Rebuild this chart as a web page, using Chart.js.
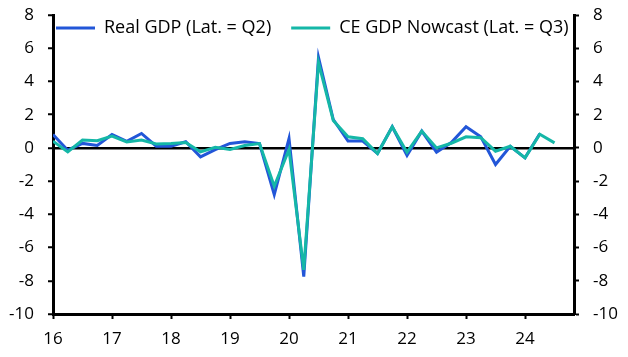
<!DOCTYPE html>
<html>
<head>
<meta charset="utf-8">
<script src="https://cdn.jsdelivr.net/npm/chart.js@4.4.1/dist/chart.umd.min.js"></script>
<style>
  html, body { margin: 0; padding: 0; background: #fff; }
  #wrap { width: 628px; height: 357px; position: relative; }
</style>
</head>
<body>
<div id="wrap"><canvas id="c" width="628" height="357"></canvas></div>
<script>
// Quarters 2016Q1 .. 2024Q3
const quarters = [
  "2016Q1","2016Q2","2016Q3","2016Q4",
  "2017Q1","2017Q2","2017Q3","2017Q4",
  "2018Q1","2018Q2","2018Q3","2018Q4",
  "2019Q1","2019Q2","2019Q3","2019Q4",
  "2020Q1","2020Q2","2020Q3","2020Q4",
  "2021Q1","2021Q2","2021Q3","2021Q4",
  "2022Q1","2022Q2","2022Q3","2022Q4",
  "2023Q1","2023Q2","2023Q3","2023Q4",
  "2024Q1","2024Q2","2024Q3"
];
// Real GDP, % q/q (latest = 2024Q2)
const realGDP = [
  0.81, -0.14, 0.27, 0.15,
  0.81, 0.40, 0.87, 0.10,
  0.10, 0.37, -0.54, -0.10,
  0.27, 0.37, 0.26, -2.81,
  0.57, -7.75, 5.44, 1.71,
  0.41, 0.41, -0.34, 1.27,
  -0.46, 1.01, -0.26, 0.32,
  1.27, 0.67, -1.00, 0.10,
  -0.60, 0.85
];
// CE GDP Nowcast, % q/q (latest = 2024Q3)
const nowcast = [
  0.40, -0.24, 0.47, 0.43,
  0.71, 0.36, 0.47, 0.24,
  0.27, 0.33, -0.24, 0.04,
  -0.10, 0.14, 0.26, -2.31,
  -0.10, -7.34, 5.14, 1.65,
  0.67, 0.55, -0.34, 1.27,
  -0.26, 1.01, 0.00, 0.28,
  0.67, 0.61, -0.20, 0.10,
  -0.60, 0.82, 0.30
];
const yearTicks = [16, 17, 18, 19, 20, 21, 22, 23, 24];
const yTicks = [-10, -8, -6, -4, -2, 0, 2, 4, 6, 8];
const seriesNames = ["Real GDP (Lat. = Q2)", "CE GDP Nowcast (Lat. = Q3)"];

function qToX(q) {
  const yr = parseInt(q.slice(2, 4), 10);
  const qq = parseInt(q.slice(5), 10);
  return yr + (qq - 1) / 4;
}
const toPoints = arr => arr.map((v, i) => ({ x: qToX(quarters[i]), y: v }));

const BLUE = '#2256d8';
const TEAL = '#15b7a7';
const FONT = "'Open Sans', 'Noto Sans', sans-serif";

// Legend overlays the plot area (does not reserve layout space)
const legendOverlay = {
  id: 'legendOverlay',
  beforeLayout(chart) {
    const lg = chart.legend;
    if (lg && !lg._overlayPatched) {
      const origFit = lg.fit.bind(lg);
      lg.fit = function () { origFit(); this.height = 0; };
      lg._overlayPatched = true;
    }
  },
  afterLayout(chart) {
    const lg = chart.legend;
    if (!lg) return;
    const pad = lg.options.labels.padding;
    lg.left = 56 - pad;
    lg.right = chart.width;
    lg.top = -1;
    lg.bottom = 60;
    lg.width = lg.right - lg.left;
    lg.height = lg.bottom - lg.top;
  }
};

const setTicks = vals => scale => { scale.ticks = vals.map(v => ({ value: v })); };
const fitY = w => s => { s.width = w; s.paddingTop = 0; s.paddingBottom = 0; };

new Chart(document.getElementById('c'), {
  type: 'line',
  data: {
    datasets: [
      {
        label: seriesNames[0],
        data: toPoints(realGDP),
        borderColor: BLUE,
        backgroundColor: BLUE,
        borderWidth: 3,
        pointRadius: 0,
        tension: 0,
        order: 2
      },
      {
        label: seriesNames[1],
        data: toPoints(nowcast),
        borderColor: TEAL,
        backgroundColor: TEAL,
        borderWidth: 3,
        pointRadius: 0,
        tension: 0,
        order: 1
      }
    ]
  },
  options: {
    responsive: false,
    animation: false,
    devicePixelRatio: 1,
    layout: { padding: { top: 15, left: 0, right: 0, bottom: 0 } },
    plugins: {
      legend: {
        position: 'top',
        align: 'start',
        labels: {
          boxWidth: 39,
          boxHeight: 3,
          padding: 20,
          color: '#000',
          font: { family: FONT, size: 18 },
          sort: (a, b) => a.datasetIndex - b.datasetIndex,
          generateLabels: chart => {
            const items = Chart.defaults.plugins.legend.labels.generateLabels(chart);
            items.forEach(it => { it.lineWidth = 0; });
            return items;
          }
        }
      },
      tooltip: { enabled: false }
    },
    scales: {
      x: {
        type: 'linear',
        min: 16,
        max: 24.83,
        afterBuildTicks: setTicks(yearTicks),
        afterFit: s => { s.height = 43; },
        border: { display: true, color: '#000', width: 3 },
        grid: {
          drawOnChartArea: false,
          drawTicks: true,
          tickLength: 5,
          tickColor: '#000',
          tickWidth: 2
        },
        ticks: {
          color: '#000',
          padding: 10,
          maxRotation: 0,
          font: { family: FONT, size: 17 },
          callback: v => String(v)
        }
      },
      y: {
        position: 'left',
        min: -10,
        max: 8,
        afterBuildTicks: setTicks(yTicks),
        afterFit: fitY(53),
        border: { display: true, color: '#000', width: 3 },
        grid: {
          drawOnChartArea: true,
          color: ctx => (ctx.tick && ctx.tick.value === 0) ? '#000' : 'rgba(0,0,0,0)',
          lineWidth: 2.5,
          drawTicks: true,
          tickLength: 5,
          tickColor: '#000',
          tickWidth: 2
        },
        ticks: {
          color: '#000',
          padding: 14,
          font: { family: FONT, size: 17 }
        }
      },
      y2: {
        position: 'right',
        min: -10,
        max: 8,
        afterBuildTicks: setTicks(yTicks),
        afterFit: fitY(54),
        border: { display: true, color: '#000', width: 3 },
        grid: {
          drawOnChartArea: false,
          drawTicks: true,
          tickLength: 5,
          tickColor: '#000',
          tickWidth: 2
        },
        ticks: {
          color: '#000',
          padding: 14,
          font: { family: FONT, size: 17 }
        }
      }
    }
  },
  plugins: [legendOverlay]
});
</script>
</body>
</html>
